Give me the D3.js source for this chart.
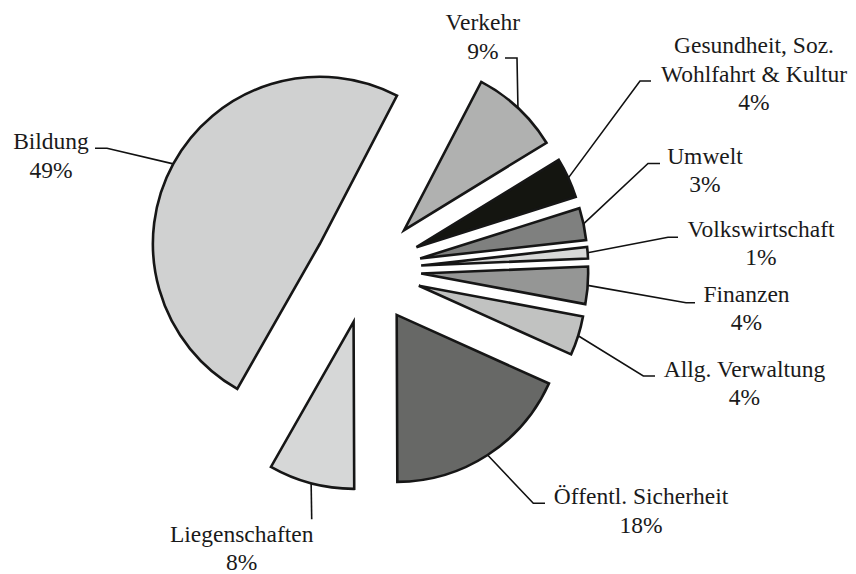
<!DOCTYPE html>
<html>
<head>
<meta charset="utf-8">
<script src="https://cdn.jsdelivr.net/npm/d3@7"></script>
<style>
  html, body { margin: 0; padding: 0; background: #fff; }
  svg { display: block; }
</style>
</head>
<body>
<svg id="chart" width="856" height="574"></svg>
<script>
// ---- data (clockwise, starting with Verkehr) ----
const categories = ["Verkehr", "Gesundheit, Soz. Wohlfahrt & Kultur", "Umwelt", "Volkswirtschaft",
  "Finanzen", "Allg. Verwaltung", "Öffentl. Sicherheit", "Liegenschaften", "Bildung"];
const labelLines = [["Verkehr"], ["Gesundheit, Soz.", "Wohlfahrt & Kultur"], ["Umwelt"], ["Volkswirtschaft"],
  ["Finanzen"], ["Allg. Verwaltung"], ["Öffentl. Sicherheit"], ["Liegenschaften"], ["Bildung"]];
const values = [8.6, 3.9, 3.1, 1.1, 3.6, 3.8, 18.2, 8.3, 49.4];
const percentLabels = ["9%", "4%", "3%", "1%", "4%", "4%", "18%", "8%", "49%"];

// ---- styling / layout (not data) ----
const fills = ["#b0b1b0", "#141510", "#7f807f", "#d8d9d8", "#959695", "#c1c2c1", "#676866", "#d6d7d7", "#d0d1d1"];
const cx = 367.3, cy = 269.6, radius = 167, explode = 54;
const startDeg = 27.5;
// label anchor: center x, baseline of first line, leader start point, elbow point
const labelLayout = [
  {x: 482.8, y: 30,    p0: [505, 58],    p1: [517, 58]},
  {x: 754,   y: 53,    p0: [651, 81],    p1: [640, 81]},
  {x: 705,   y: 163.5, p0: [660, 163.5], p1: [648, 163.5]},
  {x: 761,   y: 236.7, p0: [678, 237.3], p1: [668, 237.3]},
  {x: 746.5, y: 301.7, p0: [695, 302.7], p1: [686, 302.7]},
  {x: 744.5, y: 376.7, p0: [655, 376],   p1: [643.3, 376]},
  {x: 641,   y: 504,   p0: [545, 503.3], p1: [533.3, 503.3]},
  {x: 241.7, y: 541.7, p0: [311.7, 519.3], p1: [311.7, 519.3]},
  {x: 51,    y: 149.3, p0: [95, 148.3],  p1: [107, 148.3]}
];
const lineGap = 28.5;

const svg = d3.select("#chart");
const toRad = Math.PI / 180;
const pie = d3.pie().sort(null).value(d => d)
  .startAngle(startDeg * toRad).endAngle((startDeg + 360) * toRad);
const arcs = pie(values);
const arcGen = d3.arc().innerRadius(0).outerRadius(radius);

function offset(a) {
  const m = (a.startAngle + a.endAngle) / 2;
  return [explode * Math.sin(m), -explode * Math.cos(m)];
}
function arcMid(a) {
  const m = (a.startAngle + a.endAngle) / 2;
  const o = offset(a);
  return [cx + o[0] + radius * Math.sin(m), cy + o[1] - radius * Math.cos(m)];
}

// leader lines
const leaders = svg.append("g");
arcs.forEach((a, i) => {
  const L = labelLayout[i];
  const pts = [L.p0, L.p1, arcMid(a)];
  leaders.append("path")
    .attr("d", d3.line()(pts))
    .attr("fill", "none")
    .attr("stroke", "#111")
    .attr("stroke-width", 1.6);
});

// slices
const g = svg.append("g").attr("transform", `translate(${cx},${cy})`);
g.selectAll("path.slice")
  .data(arcs)
  .join("path")
  .attr("class", "slice")
  .attr("transform", d => { const o = offset(d); return `translate(${o[0]},${o[1]})`; })
  .attr("d", arcGen)
  .attr("fill", (d, i) => fills[i])
  .attr("stroke", "#161616")
  .attr("stroke-width", 2.6)
  .attr("stroke-linejoin", "miter");

// labels
const labels = svg.append("g")
  .attr("font-family", "'Liberation Serif', 'Times New Roman', serif")
  .attr("font-size", "23.5px")
  .attr("fill", "#1a1a1a")
  .attr("text-anchor", "middle");
categories.forEach((c, i) => {
  const L = labelLayout[i];
  const lines = labelLines[i].concat([percentLabels[i]]);
  const t = labels.append("text").attr("x", L.x).attr("y", L.y);
  lines.forEach((ln, k) => {
    t.append("tspan").attr("x", L.x).attr("y", L.y + k * lineGap).text(ln);
  });
});
</script>
</body>
</html>
